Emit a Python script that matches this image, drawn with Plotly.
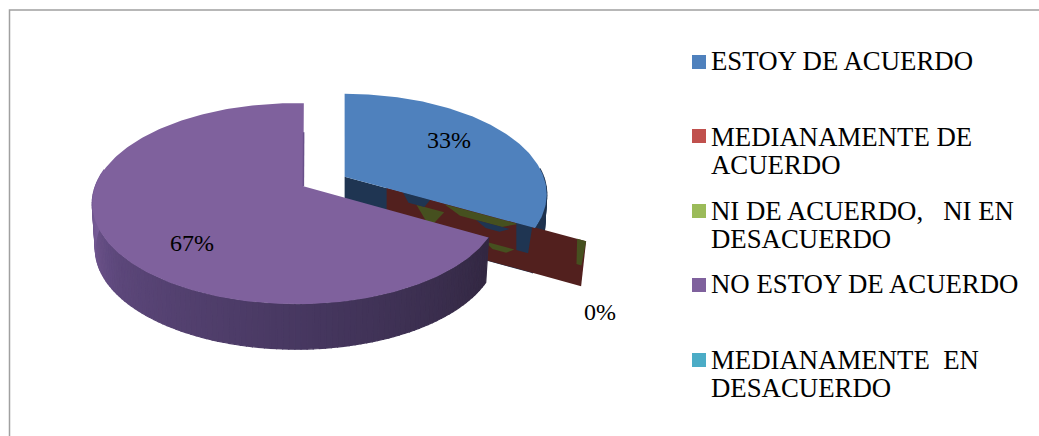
import numpy as np
import plotly.graph_objects as go

categories = ["ESTOY DE ACUERDO", "MEDIANAMENTE DE<br>ACUERDO", "NI DE ACUERDO,   NI EN<br>DESACUERDO",
              "NO ESTOY DE ACUERDO", "MEDIANAMENTE  EN<br>DESACUERDO"]
values = [33, 0, 0, 67, 0]
colors = ["#4F81BD", "#C0504D", "#9BBB59", "#7F619D", "#4BACC6"]
legend_y = [62, 136, 211, 285, 360]
legend_text_y = [60.5, 136.5, 210.5, 284, 359.5]

# projection of the tilted pie, in page pixels
CX, CY = 324, 181.5
A, B, P = 205, 97.5, 0.174
DEPTH = 45
EXPLODE = 0.117
W, H = 1039, 436
BLUE = dict(r=199 / 205, shift=0.0)
PURPLE = dict(r=201 / 205, shift=-7.0)
PURPLE_OVERRUN = np.radians(2.5)

def proj(theta, off=(0.0, 0.0), depth=0.0, r=1.0, shift=0.0, scale=1.0):
    theta = np.asarray(theta, dtype=float)
    X, Y = np.sin(theta), np.cos(theta)
    k = 1 / (1 + P * Y)
    dx, dy = A * r * X * k * scale, -B * Y * k * scale
    return (CX + A * off[0] + shift * scale + dx * (1 - 0.015 * depth / DEPTH),
            CY - B * off[1] * 0.8 + dy + depth)

total = sum(values)
edges = np.radians(np.concatenate([[0], np.cumsum(values)]) / total * 360)
fig = go.Figure()

def poly(x, y, color, line=0):
    fig.add_trace(go.Scatter(x=np.append(x, x[0]), y=np.append(y, y[0]), mode="lines", fill="toself",
                             fillcolor=color, line=dict(color=color, width=line), hoverinfo="skip",
                             showlegend=False))

def mix(stops, t):
    pos = [s[0] for s in stops]
    return "rgb(%d,%d,%d)" % tuple(np.interp(t, pos, [s[1][i] for s in stops]) for i in range(3))

def wall(t0, t1, off, stops, n, style):
    ts = np.linspace(t0, t1, n + 1)
    for i in range(n):
        xa, ya = proj(ts[i:i + 2], off, **style)
        xb, yb = proj(ts[i:i + 2][::-1], off, DEPTH, **style)
        poly(np.concatenate([xa, xb]), np.concatenate([ya, yb]), mix(stops, i / (n - 1)), 1.2)

mid_blue = (edges[0] + edges[1]) / 2
off_blue = (EXPLODE * np.sin(mid_blue), EXPLODE * np.cos(mid_blue))
mid_purple = (edges[3] + edges[4]) / 2
off_purple = (EXPLODE * np.sin(mid_purple), EXPLODE * np.cos(mid_purple))
end_blue = edges[1]

# blue slice: rim wall and cut face
wall(np.radians(85), end_blue, off_blue, [(0, (30, 50, 78)), (1, (30, 50, 78))], 20, BLUE)
ax, ay = proj(0, off_blue, scale=0.0, **BLUE)
ex, ey = proj(end_blue, off_blue, **BLUE)
ex2, ey2 = proj(end_blue, off_blue, DEPTH, **BLUE)
poly(np.array([ax, ex, ex2, ax]), np.array([ay, ey, ey2, ay + DEPTH]), "#1F3552")

# zero-valued slices: only a flat face along the blue cut remains
sx, sy = ax + 42, ay + 11
vx, vy = (ex - ax) * 1.048, (ey - ay) * 1.04
def face(u0, u1, v0=0.0, v1=1.0, taper=0.0):
    us = np.array([u0, u1, u1 - taper, u0 + taper])
    vs = np.array([v0, v0, v1, v1])
    return sx + vx * us - 5 * us * vs, sy + vy * us + DEPTH * vs
poly(*face(0, 1), "#52201E")
poly(*face(0.955, 1, 0, 0.55, 0.01), "#46501F")
poly(*face(0.15, 0.29, 0.2, 0.5, 0.05), "#46501F")
poly(*face(0.29, 0.66, 0.02, 0.18, 0.08), "#46501F")
poly(*face(0.5, 0.65, 0.6, 0.72, 0.04), "#46501F")
poly(*face(0.08, 0.22, 0.0, 0.2, 0.03), "#1F3552")
poly(*face(0.15, 0.52, 0.5, 0.6), "#1F3552")
poly(*face(0.45, 0.62, 0.18, 0.3, 0.05), "#1F3552")
poly(*face(0.65, 0.73, 0.0, 0.6, 0.01), "#1F3552")

# blue top
ts = np.linspace(edges[0], edges[1], 120)
x, y = proj(ts, off_blue, **BLUE)
poly(np.append(x, ax), np.append(y, ay), colors[0])

# purple slice
px, py = proj(0, off_purple, scale=0.0, **PURPLE)
wall(edges[3], np.radians(280), off_purple,
     [(0, (51, 40, 66)), (0.35, (70, 55, 95)), (0.7, (92, 71, 122)), (1, (126, 97, 158))], 110, PURPLE)
ts = np.linspace(edges[3], edges[4] + PURPLE_OVERRUN, 240)
x, y = proj(ts, off_purple, **PURPLE)
poly(np.append(x, px), np.append(y, py), colors[3])
sx2, sy2 = proj(edges[4] + PURPLE_OVERRUN, off_purple, **PURPLE)
lx2, ly2 = px + (sx2 - px) * 0.65, py + (sy2 - py) * 0.65
fig.add_trace(go.Scatter(x=[lx2, px], y=[ly2, py], mode="lines", line=dict(color="#69508A", width=1.5),
                         hoverinfo="skip", showlegend=False))

# legend swatches
fig.add_trace(go.Scatter(x=[699] * 5, y=legend_y, mode="markers",
                         marker=dict(symbol="square", size=14, color=colors, line=dict(width=0)),
                         hoverinfo="skip", showlegend=False))

FONT = "Liberation Serif"
annotations = []
for name, y0 in zip(categories, legend_text_y):
    for j, part in enumerate(name.split("<br>")):
        annotations.append(dict(x=709, y=y0 + j * 28.5, text=part.replace("  ", "\u00a0\u00a0"), showarrow=False,
                                xanchor="left", yanchor="middle", align="left",
                                font=dict(family=FONT, size=26.8, color="#000000")))
for v, (lx, ly) in zip([values[0], values[3], values[1]], [(449, 140), (192, 243), (600, 312)]):
    annotations.append(dict(x=lx, y=ly, text=f"{v}%", showarrow=False, xanchor="center", yanchor="middle",
                            font=dict(family=FONT, size=24, color="#000000")))

fig.update_layout(
    width=W, height=H, margin=dict(l=0, r=0, t=0, b=0), paper_bgcolor="white", plot_bgcolor="white",
    xaxis=dict(range=[0, W], visible=False, fixedrange=True),
    yaxis=dict(range=[H, 0], visible=False, fixedrange=True),
    annotations=annotations, showlegend=False,
    shapes=[dict(type="rect", x0=9.5, y0=10, x1=W + 20, y1=H + 20, line=dict(color="#A0A0A0", width=1.5), layer="below")],
)
fig.write_html("out.html", config=dict(displayModeBar=False),
               post_script="document.body.style.margin='0';document.body.style.overflow='hidden';")
